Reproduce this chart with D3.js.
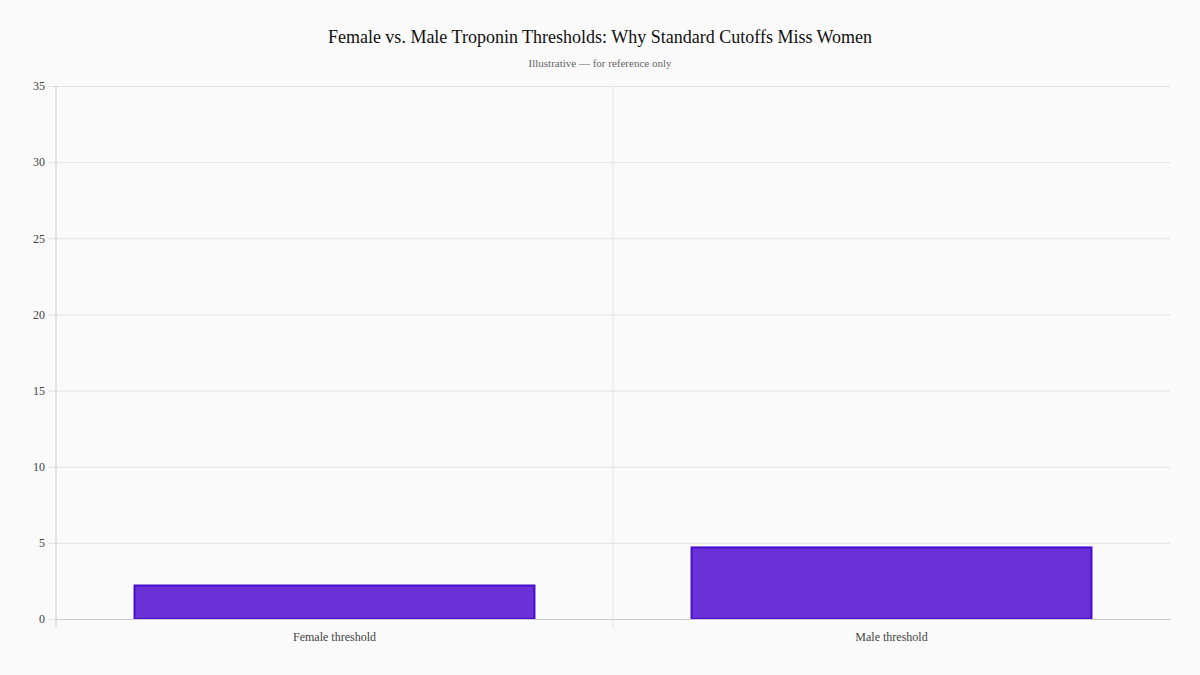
<!DOCTYPE html>
<html>
<head>
<meta charset="utf-8">
<script src="https://cdn.jsdelivr.net/npm/d3@7.9.0/dist/d3.min.js"></script>
<style>
  html, body { margin: 0; padding: 0; background: #fafafa; }
  svg { display: block; font-family: "Liberation Serif", "Times New Roman", serif; }
</style>
</head>
<body>
<svg></svg>
<script>
const width = 1200;
const height = 675;

// chart data
const categories = ["Female threshold", "Male threshold"];
const values = [2.2, 4.7];
const yTicks = [0, 5, 10, 15, 20, 25, 30, 35];

const margin = { top: 86, right: 30, bottom: 56, left: 56 };

const svg = d3.select("svg")
    .attr("width", width)
    .attr("height", height);

svg.append("rect")
    .attr("width", width)
    .attr("height", height)
    .attr("fill", "#fafafa");

const x = d3.scaleBand()
    .domain(categories)
    .range([margin.left, width - margin.right])
    .paddingInner(0)
    .paddingOuter(0);

const y = d3.scaleLinear()
    .domain([0, 35])
    .range([height - margin.bottom, margin.top]);

// horizontal grid lines + y tick labels
const yAxis = svg.append("g")
    .attr("transform", `translate(${margin.left},0)`)
    .call(d3.axisLeft(y).tickValues(yTicks).tickSize(8).tickPadding(4)
        .tickFormat(d3.format("d")));
yAxis.select(".domain").remove();
yAxis.selectAll(".tick line")
    .attr("x2", width - margin.right - margin.left)
    .attr("x1", -8)
    .attr("stroke", "#e3e3e3");
yAxis.selectAll(".tick text")
    .attr("x", -11)
    .attr("fill", "#444")
    .attr("font-size", 12)
    .attr("font-family", "Liberation Serif, serif");

// vertical split lines at category boundaries
svg.append("g")
    .selectAll("line")
    .data(categories.slice(1))
    .enter().append("line")
    .attr("x1", d => x(d))
    .attr("x2", d => x(d))
    .attr("y1", margin.top)
    .attr("y2", height - margin.bottom + 8)
    .attr("stroke", "#e3e3e3");

// left axis line
svg.append("line")
    .attr("x1", margin.left).attr("x2", margin.left)
    .attr("y1", margin.top).attr("y2", height - margin.bottom + 8)
    .attr("stroke", "#cccccc");

// bars
const barWidth = x.bandwidth() * 0.718;
svg.append("g")
    .selectAll("rect")
    .data(values)
    .enter().append("rect")
    .attr("x", (d, i) => x(categories[i]) + (x.bandwidth() - barWidth) / 2)
    .attr("y", d => y(d))
    .attr("width", barWidth)
    .attr("height", d => y(0) - y(d))
    .attr("fill", "#6931d6")
    .attr("stroke", "#4a0ed2")
    .attr("stroke-width", 2);

// x axis
const xAxis = svg.append("g")
    .attr("transform", `translate(0,${height - margin.bottom})`)
    .call(d3.axisBottom(x).tickSize(0).tickPadding(13));
xAxis.select(".domain").attr("stroke", "#cccccc");
xAxis.selectAll(".tick text")
    .attr("fill", "#444")
    .attr("font-size", 12)
    .attr("font-family", "Liberation Serif, serif");

// titles
svg.append("text")
    .attr("x", width / 2)
    .attr("y", 43)
    .attr("text-anchor", "middle")
    .attr("font-size", 18)
    .attr("fill", "#111")
    .text("Female vs. Male Troponin Thresholds: Why Standard Cutoffs Miss Women");

svg.append("text")
    .attr("x", width / 2)
    .attr("y", 67)
    .attr("text-anchor", "middle")
    .attr("font-size", 11)
    .attr("fill", "#666")
    .text("Illustrative — for reference only");
</script>
</body>
</html>
